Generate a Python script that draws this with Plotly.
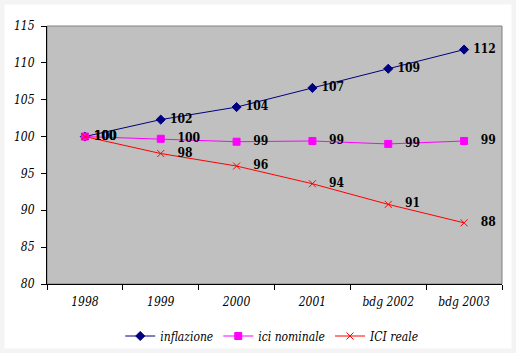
import plotly.graph_objects as go

categories = ["1998", "1999", "2000", "2001", "bdg 2002", "bdg 2003"]
inflazione = [100, 102.3, 104.0, 106.6, 109.2, 111.8]
ici_nominale = [100, 99.7, 99.3, 99.4, 99.0, 99.4]
ici_reale = [100, 97.7, 96.0, 93.6, 90.8, 88.3]
y_ticks = [80, 85, 90, 95, 100, 105, 110, 115]

serif = "DejaVu Serif Condensed"
lbl_font = dict(family=serif, size=12, color="black", weight="bold")

near = " %{y:.0f}"
far = "   %{y:.0f}"
tmpl_infl = [near] * len(categories)
tmpl_other = [near] + [far] * (len(categories) - 1)

fig = go.Figure()
fig.add_trace(go.Scatter(
    x=categories, y=inflazione, name="inflazione", mode="lines+markers+text",
    line=dict(color="#000080", width=1),
    marker=dict(symbol="diamond", size=7, color="#000080", line=dict(color="#000080", width=1)),
    texttemplate=tmpl_infl, textposition="middle right", textfont=lbl_font,
))
fig.add_trace(go.Scatter(
    x=categories, y=ici_nominale, name="ici nominale", mode="lines+markers+text",
    line=dict(color="#ff00ff", width=1),
    marker=dict(symbol="square", size=7, color="#ff00ff", line=dict(color="#ff00ff", width=1)),
    texttemplate=tmpl_other, textposition="middle right", textfont=lbl_font,
))
fig.add_trace(go.Scatter(
    x=categories, y=ici_reale, name="ICI reale", mode="lines+markers+text",
    line=dict(color="#ff0000", width=1),
    marker=dict(symbol="x-thin", size=7, color="#ff0000", line=dict(color="#ff0000", width=1)),
    texttemplate=tmpl_other, textposition="middle right", textfont=lbl_font,
))

fig.update_layout(
    width=516, height=353,
    margin=dict(l=47, r=14, t=26, b=69, autoexpand=False),
    paper_bgcolor="white", plot_bgcolor="#c0c0c0",
    font=dict(family=serif, size=12, color="black"),
    showlegend=True,
    legend=dict(orientation="h", x=0.495, xanchor="center",
                yref="container", y=(353 - 336) / 353, yanchor="middle",
                font=dict(family=serif, size=12, style="italic"), bgcolor="rgba(0,0,0,0)",
                itemwidth=30),
    xaxis=dict(
        type="category", tickson="boundaries", ticks="outside", ticklen=5, tickcolor="black",
        showline=True, linecolor="black", linewidth=1, showgrid=False,
        tickfont=dict(family=serif, size=12, style="italic"),
        ticklabelstandoff=7, automargin=False,
        range=[-0.5, 5.5],
    ),
    yaxis=dict(
        range=[80, 115], tickvals=y_ticks, ticks="outside", ticklen=5, tickcolor="black",
        showline=True, linecolor="black", linewidth=1, showgrid=False, zeroline=False,
        tickfont=dict(family=serif, size=12, style="italic"),
        ticklabelstandoff=4, automargin=False,
    ),
    shapes=[
        dict(type="rect", xref="paper", yref="paper", x0=0, x1=1, y0=0, y1=1,
             line=dict(color="#808080", width=1), fillcolor="rgba(0,0,0,0)", layer="below"),
        dict(type="rect", xref="paper", yref="paper",
             x0=-47/455, x1=(516-47)/455, y0=-69/258, y1=284/258,
             line=dict(color="#f4f4f4", width=9), fillcolor="rgba(0,0,0,0)", layer="above"),
    ],
)

fig.write_html("out.html")
